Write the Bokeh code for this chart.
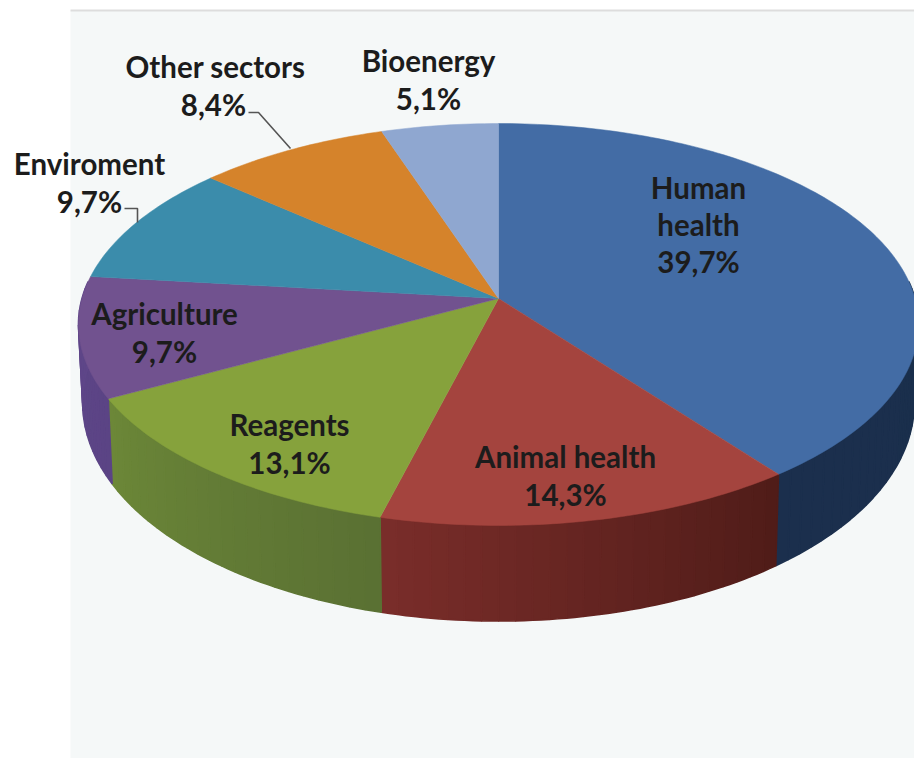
import numpy as np
from bokeh.core.properties import value
from bokeh.embed import file_html
from bokeh.models import ColumnDataSource, Range1d
from bokeh.plotting import figure
from bokeh.resources import INLINE

# Market share by application sector, clockwise from twelve o'clock
sectors = ["Human health", "Animal health", "Reagents", "Agriculture",
           "Enviroment", "Other sectors", "Bioenergy"]
shares = [39.7, 14.3, 13.1, 9.7, 9.7, 8.4, 5.1]

# Slice colours: top face, then the wall shade at each end of the slice
top_colors = ["#436ca5", "#a4443e", "#86a23c", "#71528f", "#3b8cab", "#d5832b", "#8fa7d0"]
wall_start = ["#1a2f4c", "#4f1c18", "#5a7033", "#5b4485", "#2d6a82", "#a0621f", "#6b7d9c"]
wall_end = ["#1b2f4d", "#7a2d2a", "#6c8838", "#5f4689", "#2d6a82", "#a0621f", "#6b7d9c"]

# Projection of the tilted disc onto the page
CX, CY = 498.0, 298.0
RX, RY, TILT = 416.5, 197.6, 0.1293
WALL_BASE, WALL_SLOPE, WALL_NARROW = 75.3, 20.3, 0.99


def top_edge(theta):
    sx, cy = np.sin(theta), np.cos(theta)
    w = 1 + TILT * cy
    return CX + RX * sx / w, CY - RY * cy / w


def bottom_edge(theta):
    x, y = top_edge(theta)
    return CX + (x - CX) * WALL_NARROW, y + WALL_BASE - WALL_SLOPE * np.cos(theta)


def hex_to_rgb(h):
    return np.array([int(h[i:i + 2], 16) for i in (1, 3, 5)], dtype=float)


def mix(a, b, t):
    c = hex_to_rgb(a) * (1 - t) + hex_to_rgb(b) * t
    return "#%02x%02x%02x" % tuple(int(round(v)) for v in c)


fractions = np.array(shares) / sum(shares)
edges = np.concatenate([[0.0], np.cumsum(fractions)]) * 2 * np.pi

p = figure(width=914, height=758, output_backend="svg", toolbar_location=None,
           x_range=Range1d(0, 914), y_range=Range1d(758, 0),
           min_border=0, outline_line_color=None, background_fill_color="white",
           border_fill_color="white")
p.axis.visible = False
p.grid.visible = False

# Backdrop panel with its thin upper rule
p.quad(left=[70], right=[914], top=[10], bottom=[758], fill_color="#f5f8f8", line_color=None)
p.segment(x0=[70], x1=[914], y0=[10], y1=[10], line_color="#dddddd", line_width=2)

# Outer wall, built from narrow strips so each slice can carry a shade ramp
wall_xs, wall_ys, wall_colors = [], [], []
for i in range(len(shares)):
    lo, hi = max(edges[i], np.radians(85)), min(edges[i + 1], np.radians(275))
    if hi <= lo:
        continue
    steps = max(2, int(np.degrees(hi - lo) / 2))
    ticks = np.linspace(lo, hi, steps + 1)
    for j in range(steps):
        a = np.linspace(ticks[j], ticks[j + 1], 3)
        xt, yt = top_edge(a)
        xb, yb = bottom_edge(a[::-1])
        wall_xs.append(np.concatenate([xt, xb]).tolist())
        wall_ys.append(np.concatenate([yt, yb]).tolist())
        wall_colors.append(mix(wall_start[i], wall_end[i], (j + 0.5) / steps))
p.patches(wall_xs, wall_ys, fill_color=wall_colors, line_color=wall_colors, line_width=1.6)

# Top face
face_xs, face_ys = [], []
for i in range(len(shares)):
    a = np.linspace(edges[i], edges[i + 1], max(4, int(np.degrees(edges[i + 1] - edges[i]))))
    x, y = top_edge(a)
    face_xs.append([CX] + x.tolist())
    face_ys.append([CY] + y.tolist())
p.patches(face_xs, face_ys, fill_color=top_colors, line_color=top_colors, line_width=0.5)

# Leader lines for the two labels set outside the disc
p.line([248, 258, 290], [112, 112, 148], line_color="#555555", line_width=1.6)
p.line([124, 137, 137], [208, 208, 222], line_color="#555555", line_width=1.6)

# Labels: sector name lines followed by the share
value_text = [f"{v:.1f}%".replace(".", ",") for v in shares]
label_lines = [["Human", "health"], ["Animal health"], ["Reagents"], ["Agriculture"],
               ["Enviroment"], ["Other sectors"], ["Bioenergy"]]
label_x = [698, 565, 289, 164, 89, 215, 428]
label_y = [187, 456, 424, 313, 163, 66, 60]
value_dx = [0, 0, 0, 0, 0, -2, 0]
LINE_H = 36.5

tx, ty, tt = [], [], []
for i, lines in enumerate(label_lines):
    for k, line in enumerate(lines):
        tx.append(label_x[i])
        ty.append(label_y[i] + k * LINE_H)
        tt.append(line)
    tx.append(label_x[i] + value_dx[i])
    ty.append(label_y[i] + len(lines) * LINE_H + 1)
    tt.append(value_text[i])

p.text(x="x", y="y", text="t", source=ColumnDataSource(dict(x=tx, y=ty, t=tt)),
       text_font=value("Lato"), text_font_style="bold", text_font_size="29.5px",
       text_align="center", text_baseline="middle", text_color="#1c1c1c")

open("out.html", "w").write(file_html(p, INLINE))
